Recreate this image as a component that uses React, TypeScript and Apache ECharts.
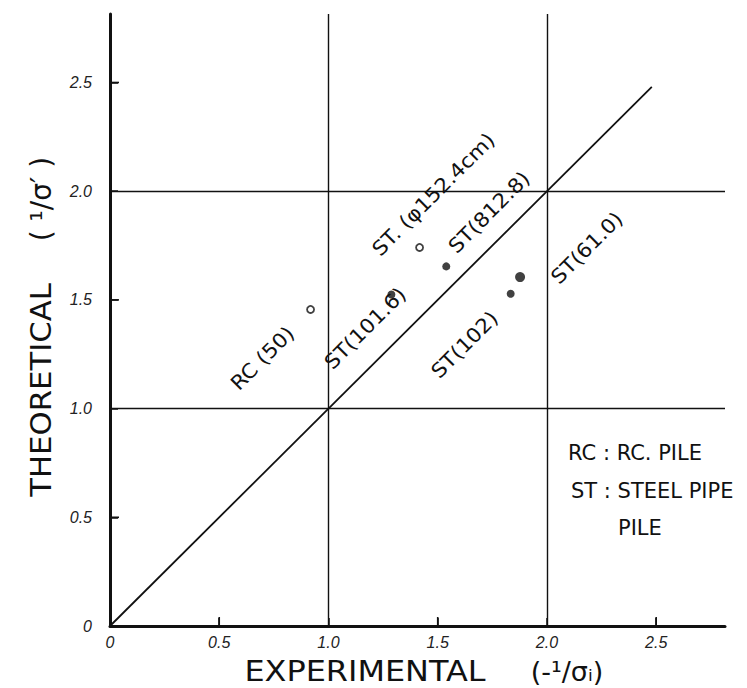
import React, { useEffect, useRef } from "react";
import * as echarts from "echarts";

// Experimental vs theoretical 1/σ values for each pile
const pileNames = ["RC (50)", "ST(101.6)", "ST. (φ152.4cm)", "ST(812.8)", "ST(102)", "ST(61.0)"];
const experimental = [0.918, 1.288, 1.417, 1.539, 1.834, 1.877];
const theoretical = [1.456, 1.525, 1.741, 1.654, 1.528, 1.605];
const hollow = [true, false, true, false, false, false];
const markerSize = [7, 8, 7, 8, 8, 10];
// label placement relative to its point (pixels)
const labelOffsets: [number, number][] = [
  [-48, 49],
  [-26, 34],
  [14, -53],
  [43, -54],
  [-46, 51],
  [67, -29],
];
const equalityLine = [[0, 0], [2.48, 2.48]];
const gridValues = [1, 2];
const tickValues = [0, 0.5, 1, 1.5, 2, 2.5];
const minorTickValues = [0.5, 1.5, 2.5];
const axisMax = 2.815;

const fmtTick = (v: number) => (v === 0 ? "0" : v.toFixed(1));

export default function App() {
  const ref = useRef<HTMLDivElement>(null);
  useEffect(() => {
    if (!ref.current) return;
    const chart = echarts.init(ref.current, undefined, { renderer: "svg" });
    const ink = "#111";
    const axisCommon = {
      type: "value" as const,
      min: 0,
      max: axisMax,
      interval: 0.5,
      axisLine: { show: true, onZero: false, lineStyle: { color: ink, width: 3 } },
      axisTick: { show: true, inside: true, length: 8, interval: 0, lineStyle: { color: ink, width: 1.5 } },
      splitLine: { show: false },
      axisLabel: {
        formatter: (v: number) => (tickValues.includes(Math.round(v * 10) / 10) ? fmtTick(v) : ""),
        fontFamily: "Liberation Sans",
        fontStyle: "italic",
        fontSize: 16,
        color: "#222",
        showMaxLabel: false,
      },
    };
    const data = pileNames.map((name, i) => ({
      name,
      value: [experimental[i], theoretical[i]],
      symbolSize: markerSize[i],
      itemStyle: hollow[i]
        ? { color: "#fff", borderColor: ink, borderWidth: 1.8 }
        : { color: ink },
    }));
    const textStyle = (text: string, size: number, align = "center") => ({
      text,
      fontFamily: "DejaVu Sans",
      fontSize: size,
      fill: ink,
      align,
      verticalAlign: "middle",
    });
    const staticGraphics: any[] = [
      { id: "yname", type: "text", x: 41, y: 390, rotation: Math.PI / 2, scaleX: 1.06, style: textStyle("THEORETICAL", 29) },
      { id: "yunit", type: "text", x: 41, y: 199, rotation: Math.PI / 2, style: textStyle("( ¹/σ′ )", 28) },
      { id: "xname", type: "text", x: 365, y: 671, scaleX: 1.14, style: textStyle("EXPERIMENTAL", 28) },
      { id: "xunit", type: "text", x: 567, y: 671, style: textStyle("(-¹/σᵢ)", 27) },
      { id: "leg1", type: "text", x: 568, y: 453, style: textStyle("RC : RC. PILE", 21, "left") },
      { id: "leg2", type: "text", x: 571, y: 491, style: textStyle("ST : STEEL PIPE", 21, "left") },
      { id: "leg3", type: "text", x: 618, y: 528, style: textStyle("PILE", 21, "left") },
    ];
    chart.setOption({
      animation: false,
      backgroundColor: "#fff",
      grid: { left: 110, right: 22, top: 14, bottom: 62 },
      xAxis: { ...axisCommon, axisLabel: { ...axisCommon.axisLabel, margin: 8 } },
      yAxis: { ...axisCommon, axisLabel: { ...axisCommon.axisLabel, margin: 18 } },
      series: [
        {
          type: "line",
          data: equalityLine,
          symbol: "none",
          lineStyle: { color: ink, width: 1.8 },
          silent: true,
          z: 2,
          markLine: {
            silent: true,
            symbol: "none",
            label: { show: false },
            lineStyle: { color: ink, width: 1.4, type: "solid" },
            data: [
              ...gridValues.map((v) => ({ xAxis: v })),
              ...gridValues.map((v) => ({ yAxis: v })),
            ],
          },
        },
        {
          type: "scatter",
          data,
          z: 5,
        },
      ],
      graphic: staticGraphics,
    });
    const toPx = (x: number, y: number) => chart.convertToPixel({ seriesIndex: 1 }, [x, y]) as number[];
    // point labels, rotated 45°, placed relative to each point via the axes' scales
    const labelGraphics = pileNames.map((name, i) => {
      const p = toPx(experimental[i], theoretical[i]);
      return {
        id: "lbl" + i,
        type: "text",
        x: p[0] + labelOffsets[i][0],
        y: p[1] + labelOffsets[i][1],
        rotation: Math.PI / 4,
        scaleX: 1.08,
        z: 10,
        style: textStyle(name, 20),
      };
    });
    // inward tick marks at the half-unit values
    const tickGraphics: any[] = [];
    minorTickValues.forEach((v, i) => {
      const px = toPx(v, 0);
      tickGraphics.push({
        id: "xt" + i,
        type: "line",
        z: 10,
        shape: { x1: px[0], y1: px[1], x2: px[0], y2: px[1] - 9 },
        style: { stroke: ink, lineWidth: 1.6 },
      });
      const py = toPx(0, v);
      tickGraphics.push({
        id: "yt" + i,
        type: "line",
        z: 10,
        shape: { x1: py[0], y1: py[1], x2: py[0] + 9, y2: py[1] },
        style: { stroke: ink, lineWidth: 1.6 },
      });
    });
    chart.setOption({ graphic: [...staticGraphics, ...labelGraphics, ...tickGraphics] });
    return () => chart.dispose();
  }, []);
  return (
    <div
      ref={ref}
      style={{ position: "fixed", left: 0, top: 0, width: 747, height: 688, background: "#fff" }}
    />
  );
}
